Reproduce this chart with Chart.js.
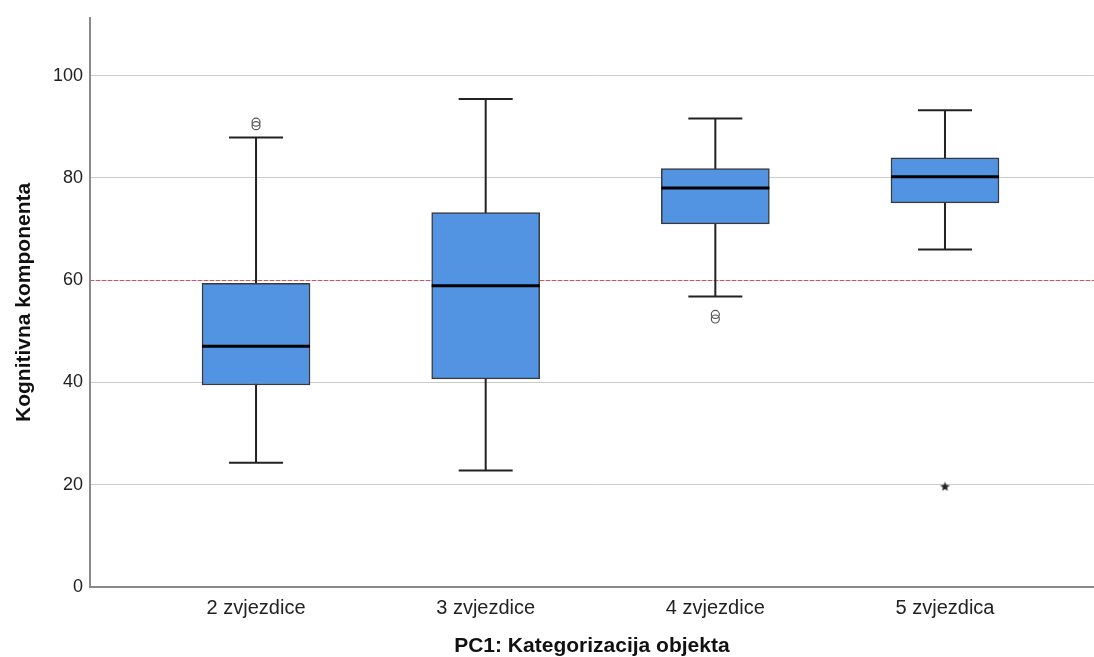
<!DOCTYPE html>
<html>
<head>
<meta charset="utf-8">
<script src="https://cdn.jsdelivr.net/npm/chart.js@4.4.1/dist/chart.umd.min.js"></script>
<style>
  html, body { margin: 0; padding: 0; background: #fff; overflow: hidden; }
  #wrap { width: 1099px; height: 657px; }
</style>
</head>
<body>
<div id="wrap"><canvas id="boxChart"></canvas></div>
<script>
// categories and box statistics
const categories = ["2 zvjezdice", "3 zvjezdice", "4 zvjezdice", "5 zvjezdica"];
const whiskerLow = [24.3, 22.8, 56.8, 66.0];
const q1 = [39.5, 40.7, 71.0, 75.1];
const medians = [47.1, 58.9, 78.0, 80.2];
const q3 = [59.4, 73.2, 81.8, 83.9];
const whiskerHigh = [87.9, 95.4, 91.6, 93.2];
// outliers (circles) and extremes (star): category index, value
const outlierCat = [0, 0, 2, 2];
const outlierVal = [90.9, 90.2, 53.3, 52.4];
const extremeCat = [3];
const extremeVal = [19.6];
const yTicks = [0, 20, 40, 60, 80, 100];
const referenceLine = 60;

// small filled star for the extreme value
function makeStar() {
    let c = document.createElement("canvas");
    c.width = 11; c.height = 11;
    let g = c.getContext("2d");
    g.fillStyle = "#222";
    g.beginPath();
    for (let i = 0; i < 10; i++) {
        let r = i % 2 === 0 ? 5 : 2.2;
        let a = -Math.PI / 2 + i * Math.PI / 5;
        let px = 5.5 + r * Math.cos(a), py = 5.5 + r * Math.sin(a);
        if (i === 0) g.moveTo(px, py); else g.lineTo(px, py);
    }
    g.closePath();
    g.fill();
    return c;
}

const boxExtras = {
    id: "boxExtras",
    beforeDatasetsDraw(chart) {
        let ctx = chart.ctx, x = chart.scales.x, y = chart.scales.y, area = chart.chartArea;
        // reference line at 60
        let ry = Math.round(y.getPixelForValue(referenceLine)) + 0.5;
        ctx.save();
        ctx.strokeStyle = "#e0505a";
        ctx.lineWidth = 1.2;
        ctx.setLineDash([4, 2]);
        ctx.beginPath();
        ctx.moveTo(area.left, ry);
        ctx.lineTo(area.right, ry);
        ctx.stroke();
        ctx.restore();
        // whiskers
        ctx.save();
        ctx.strokeStyle = "#222";
        ctx.lineWidth = 2;
        categories.forEach((c, i) => {
            let cx = x.getPixelForValue(i);
            let lo = y.getPixelForValue(whiskerLow[i]);
            let hi = y.getPixelForValue(whiskerHigh[i]);
            ctx.beginPath();
            ctx.moveTo(cx, lo); ctx.lineTo(cx, hi);
            ctx.moveTo(cx - 27, lo); ctx.lineTo(cx + 27, lo);
            ctx.moveTo(cx - 27, hi); ctx.lineTo(cx + 27, hi);
            ctx.stroke();
        });
        ctx.restore();
    },
    afterDatasetsDraw(chart) {
        let ctx = chart.ctx, x = chart.scales.x, y = chart.scales.y;
        ctx.save();
        ctx.strokeStyle = "#000";
        ctx.lineWidth = 3;
        categories.forEach((c, i) => {
            let cx = x.getPixelForValue(i);
            let m = y.getPixelForValue(medians[i]);
            ctx.beginPath();
            ctx.moveTo(cx - 54, m); ctx.lineTo(cx + 54, m);
            ctx.stroke();
        });
        ctx.restore();
    }
};

let ctx = document.getElementById("boxChart").getContext("2d");
new Chart(ctx, {
    data: {
        datasets: [
            {
                type: "bar",
                data: categories.map((c, i) => ({ x: i, y: [q1[i], q3[i]] })),
                backgroundColor: "#5294e2",
                borderColor: "#3a3a3a",
                borderWidth: 1.5,
                borderSkipped: false,
                barThickness: 108,
                order: 2,
            },
            {
                type: "scatter",
                data: outlierCat.map((c, i) => ({ x: c, y: outlierVal[i] })),
                pointStyle: "circle",
                pointRadius: 4,
                backgroundColor: "rgba(255,255,255,0)",
                borderColor: "#555",
                borderWidth: 1.2,
                order: 1,
            },
            {
                type: "scatter",
                data: extremeCat.map((c, i) => ({ x: c, y: extremeVal[i] })),
                pointStyle: makeStar(),
                order: 1,
            },
        ],
    },
    options: {
        responsive: true,
        maintainAspectRatio: false,
        animation: false,
        layout: { padding: { top: 15, right: 0, left: 0, bottom: 0 } },
        plugins: { legend: { display: false }, tooltip: { enabled: false } },
        scales: {
            x: {
                type: "linear",
                offset: false,
                min: -0.723,
                max: 3.648,
                afterFit: (s) => { s.height = 70; },
                afterBuildTicks: (s) => { s.ticks = categories.map((c, i) => ({ value: i })); },
                grid: { display: false, drawTicks: false },
                border: { display: true, color: "#8a8a8a", width: 2 },
                ticks: {
                    padding: 9,
                    color: "#222",
                    font: { family: "Liberation Sans", size: 20 },
                    callback: (v) => categories[v],
                },
                title: {
                    display: true,
                    text: "PC1: Kategorizacija objekta",
                    color: "#111",
                    font: { family: "Liberation Sans", size: 21, weight: "bold" },
                    padding: { top: 0, bottom: -2 },
                },
            },
            y: {
                min: 0,
                max: 111.3,
                afterFit: (s) => { s.width = 90; },
                afterBuildTicks: (s) => { s.ticks = yTicks.map((v) => ({ value: v })); },
                grid: { color: "#cccccc", lineWidth: 1, drawTicks: false },
                border: { display: true, color: "#8a8a8a", width: 2 },
                ticks: {
                    padding: 7,
                    color: "#222",
                    font: { family: "Liberation Sans", size: 18 },
                },
                title: {
                    display: true,
                    text: "Kognitivna komponenta",
                    color: "#111",
                    font: { family: "Liberation Sans", size: 21, weight: "bold" },
                    padding: { top: 12, bottom: 0 },
                },
            },
        },
    },
    plugins: [boxExtras],
});
</script>
</body>
</html>
